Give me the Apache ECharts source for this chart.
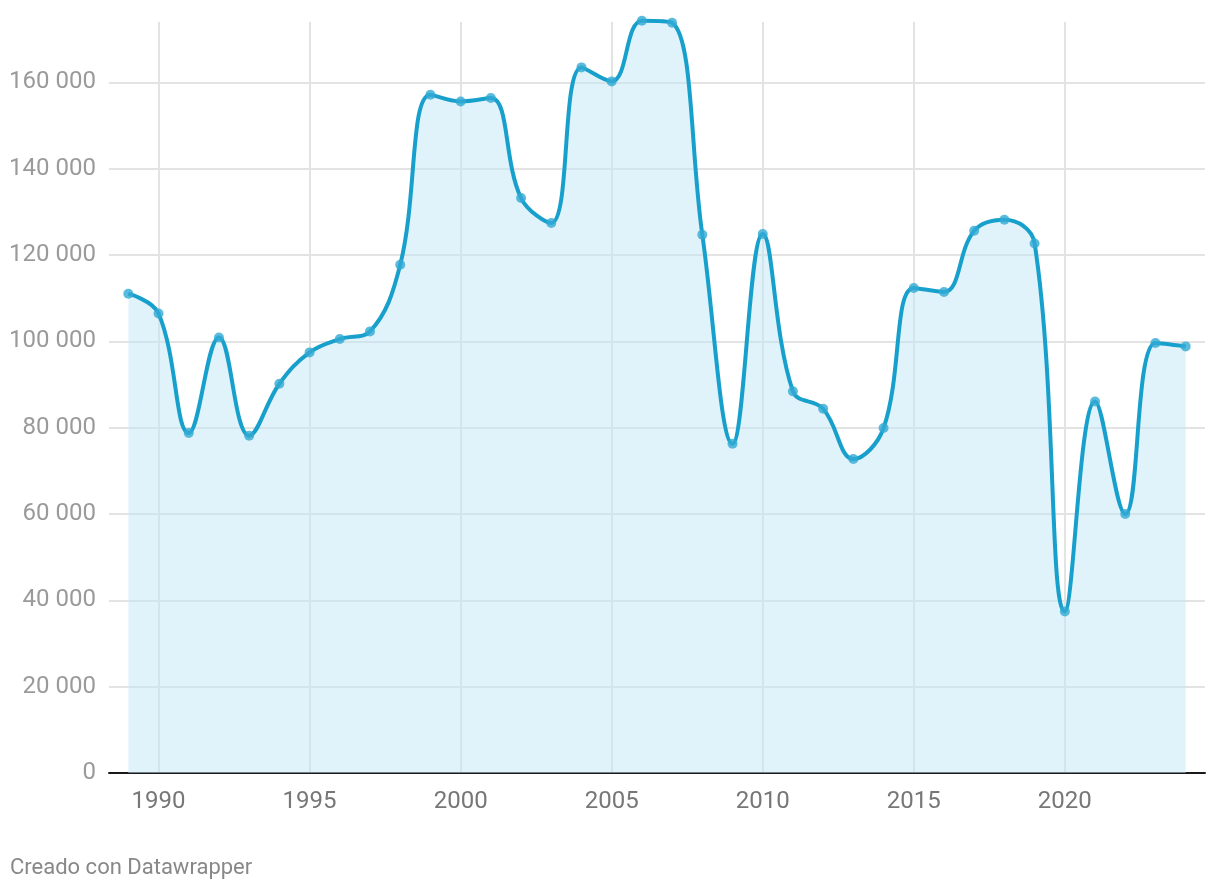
<!DOCTYPE html>
<html>
<head>
<meta charset="utf-8">
<script src="https://cdn.jsdelivr.net/npm/echarts@6/dist/echarts.min.js"></script>
<style>
  html, body { margin: 0; padding: 0; background: #fff; }
  #chart { width: 1220px; height: 890px; }
</style>
</head>
<body>
<div id="chart"></div>
<script>
const years = [1989,1990,1991,1992,1993,1994,1995,1996,1997,1998,1999,2000,2001,2002,2003,2004,2005,2006,2007,2008,2009,2010,2011,2012,2013,2014,2015,2016,2017,2018,2019,2020,2021,2022,2023,2024];
const values = [111050,106480,78770,100920,78150,90190,97450,100550,102320,117770,157150,155600,156380,133220,127420,163480,160240,174290,173830,124720,76300,124880,88420,84400,72740,79930,112370,111440,125640,128190,122700,37440,86090,60000,99620,98840];
const xTickYears = [1990,1995,2000,2005,2010,2015,2020];
const yTicks = [0,20000,40000,60000,80000,100000,120000,140000,160000];
const footer = 'Creado con Datawrapper';

const chart = echarts.init(document.getElementById('chart'), null, { renderer: 'canvas' });
const fmt = v => String(Math.round(v)).replace(/\B(?=(\d{3})+(?!\d))/g, ' ');

chart.setOption({
  animation: false,
  backgroundColor: '#ffffff',
  textStyle: { fontFamily: 'Roboto, sans-serif' },
  graphic: [{
    type: 'text', left: 10, top: 857,
    style: { text: footer, fill: '#888888', fontSize: 22, fontFamily: 'Roboto, sans-serif' }
  }],
  grid: { left: 109, right: 15, top: 22, bottom: 117, containLabel: false },
  xAxis: {
    type: 'value',
    min: 1988.36,
    max: 2024.64,
    axisLine: { show: true, onZero: false, lineStyle: { color: '#1a1a1a', width: 2 } },
    axisTick: { show: false, customValues: xTickYears },
    axisLabel: {
      customValues: xTickYears,
      color: '#777777', fontSize: 24, margin: 17,
      formatter: v => String(v)
    },
    splitLine: { show: true, lineStyle: { color: '#e3e3e3', width: 2 } }
  },
  yAxis: {
    type: 'value',
    min: 0,
    max: 174000,
    axisLine: { show: false },
    axisTick: { show: false, customValues: yTicks },
    axisLabel: {
      customValues: yTicks,
      color: '#9a9a9a', fontSize: 24, margin: 13,
      formatter: v => fmt(v)
    },
    splitLine: { show: true, lineStyle: { color: '#e3e3e3', width: 2 } }
  },
  series: [{
    type: 'line',
    data: years.map((y, i) => [y, values[i]]),
    smooth: 0.4,
    clip: false,
    symbol: 'circle',
    symbolSize: 10,
    showSymbol: true,
    lineStyle: { color: '#18a0cc', width: 4 },
    itemStyle: { color: 'rgba(50,170,212,0.8)', borderWidth: 0 },
    areaStyle: { color: 'rgba(196,231,246,0.72)', origin: 'start' },
    z: 3
  }]
});
</script>
</body>
</html>
